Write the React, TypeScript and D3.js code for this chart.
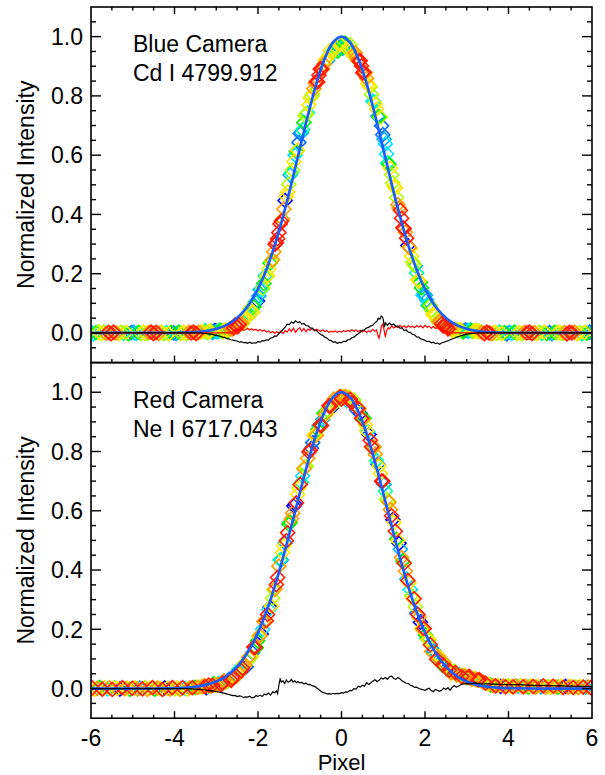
import React from 'react';
import * as d3 from 'd3';

const W = 605;
const H = 775;
const plotLeft = 91;
const plotRight = 592;
const panelTops = [7, 362.6];
const panelH = 355.6;

const PALETTE = ['#0000ff', '#0a6cff', '#00b0ff', '#00e5ff', '#00ff9c', '#00f000', '#aaff00', '#ffe600', '#ff9a00', '#ff1a00'];

const xTickLabels = ['-6', '-4', '-2', '0', '2', '4', '6'];
const yTickLabels = ['0.0', '0.2', '0.4', '0.6', '0.8', '1.0'];
const xLabel = 'Pixel';
const yLabel = 'Normalized Intensity';

// ---------- Blue camera (top panel) ----------
const blueCamX = [
  -6, -5.94, -5.88, -5.82, -5.76, -5.7, -5.64, -5.58, -5.52, -5.46, -5.4, -5.34, -5.28, -5.22, -5.16, -5.1, -5.04, -4.98, -4.92, -4.86,
  -4.8, -4.74, -4.68, -4.62, -4.56, -4.5, -4.44, -4.38, -4.32, -4.26, -4.2, -4.14, -4.08, -4.02, -3.96, -3.9, -3.84, -3.78, -3.72, -3.66,
  -3.6, -3.54, -3.48, -3.42, -3.36,
  -3.3, -3.24, -3.18, -3.12, -3.06, -3, -2.94, -2.88, -2.82, -2.76, -2.7, -2.64, -2.58, -2.52, -2.46, -2.4, -2.34, -2.28, -2.22, -2.16,
  -2.1, -2.04, -1.98, -1.92, -1.86, -1.8, -1.74, -1.68, -1.62, -1.56, -1.5, -1.44, -1.38, -1.32, -1.26, -1.2, -1.14, -1.08, -1.02, -0.96,
  -0.9, -0.84, -0.78, -0.72, -0.66, -0.6, -0.54, -0.48, -0.42, -0.36, -0.3, -0.24, -0.18, -0.12, -0.06, 0,
  0.06, 0.12, 0.18, 0.24, 0.3, 0.36, 0.42, 0.48, 0.54, 0.6, 0.66, 0.72, 0.78, 0.84, 0.9, 0.96, 1.02, 1.08, 1.14, 1.2,
  1.26, 1.32, 1.38, 1.44, 1.5, 1.56, 1.62, 1.68, 1.74, 1.8, 1.86, 1.92, 1.98, 2.04, 2.1, 2.16, 2.22, 2.28, 2.34, 2.4,
  2.46, 2.52, 2.58, 2.64, 2.7, 2.76, 2.82, 2.88, 2.94, 3, 3.06, 3.12, 3.18, 3.24, 3.3,
  3.36, 3.42, 3.48, 3.54, 3.6, 3.66, 3.72, 3.78, 3.84, 3.9, 3.96, 4.02, 4.08, 4.14, 4.2, 4.26, 4.32, 4.38, 4.44, 4.5,
  4.56, 4.62, 4.68, 4.74, 4.8, 4.86, 4.92, 4.98, 5.04, 5.1, 5.16, 5.22, 5.28, 5.34, 5.4, 5.46, 5.52, 5.58, 5.64, 5.7,
  5.76, 5.82, 5.88, 5.94, 6,
];
const blueCamY = [
  0.002, -0.003, 0.001, 0.004, -0.002, 0.003, -0.001, 0.002, -0.003, 0.003, 0.0, -0.002, 0.003, -0.001, 0.002, -0.003, 0.001, 0.003, -0.002, 0.002,
  -0.001, 0.003, -0.003, 0.001, 0.003, -0.002, 0.002, -0.001, 0.003, -0.002, 0.001, -0.003, 0.002, 0.0, -0.002, 0.003, -0.001, 0.002, -0.003, 0.002,
  0.0, 0.003, -0.002, 0.002, 0.003,
  0.005, 0.004, 0.004, 0.005, 0.005, 0.006, 0.006, 0.007, 0.008, 0.009, 0.011, 0.014, 0.017, 0.023, 0.028, 0.034, 0.042, 0.051, 0.065, 0.075,
  0.088, 0.106, 0.125, 0.145, 0.167, 0.19, 0.216, 0.244, 0.274, 0.305, 0.339, 0.377, 0.418, 0.461, 0.502, 0.54, 0.578, 0.612, 0.643, 0.676,
  0.71, 0.74, 0.769, 0.797, 0.824, 0.849, 0.87, 0.89, 0.908, 0.924, 0.936, 0.947, 0.954, 0.96, 0.964, 0.969,
  0.969, 0.966, 0.963, 0.955, 0.945, 0.931, 0.917, 0.901, 0.88, 0.859, 0.833, 0.805, 0.779, 0.755, 0.73, 0.699, 0.654, 0.604, 0.568, 0.534,
  0.495, 0.457, 0.422, 0.387, 0.352, 0.32, 0.289, 0.259, 0.229, 0.202, 0.176, 0.152, 0.131, 0.111, 0.092, 0.076, 0.061, 0.048, 0.039, 0.031,
  0.025, 0.02, 0.015, 0.012, 0.011, 0.01, 0.01, 0.008, 0.007, 0.009, 0.008, 0.008, 0.007, 0.007, 0.006,
  0.002, -0.002, 0.003, 0.0, -0.003, 0.002, -0.001, 0.003, -0.002, 0.001, -0.003, 0.002, -0.001, 0.003, -0.002, 0.001, -0.003, 0.002, 0.0, 0.003,
  -0.002, 0.001, -0.003, 0.002, -0.001, 0.003, -0.002, 0.001, -0.003, 0.002, 0.0, 0.003, -0.002, 0.001, -0.003, 0.002, 0.0, 0.003, -0.002, 0.001,
  -0.003, 0.002, -0.001, 0.003, 0.0,
];
const blueCamC = [
  2, 3, 5, 6, 7, 6, 8, 9, 9, 9, 8, 7, 6, 4, 7, 5, 1, 2, 3, 5,
  6, 7, 6, 8, 9, 9, 9, 8, 7, 6, 4, 7, 5, 1, 2, 5, 6, 7, 6, 8,
  9, 9, 9, 8, 7,
  6, 4, 7, 5, 1, 2, 3, 5, 6, 7, 6, 8, 9, 9, 9, 8, 7, 6, 4, 7,
  5, 1, 2, 3, 5, 6, 7, 6, 8, 9, 9, 9, 8, 7, 6, 4, 7, 5, 1, 2,
  5, 6, 7, 6, 8, 9, 9, 9, 8, 7, 6, 4, 7, 5, 1, 2,
  3, 5, 6, 7, 6, 8, 9, 9, 9, 8, 7, 6, 4, 7, 5, 1, 2, 3, 5, 6,
  7, 6, 8, 9, 9, 9, 8, 7, 6, 4, 7, 5, 1, 2, 5, 6, 7, 6, 8, 9,
  9, 9, 8, 7, 6, 4, 7, 5, 1, 2, 3, 5, 6, 7, 6,
  8, 9, 9, 9, 8, 7, 6, 4, 7, 5, 1, 2, 3, 5, 6, 7, 6, 8, 9, 9,
  9, 8, 7, 6, 4, 7, 5, 1, 2, 5, 6, 7, 6, 8, 9, 9, 9, 8, 7, 6,
  4, 7, 5, 1, 2,
];
// second set of fibres (interleaved sub-pixel positions)
const blueCamX2 = [
  -3.27, -3.21, -3.15, -3.09, -3.03, -2.97, -2.91, -2.85, -2.79, -2.73, -2.67, -2.61, -2.55, -2.49, -2.43, -2.37, -2.31, -2.25, -2.19, -2.13,
  -2.07, -2.01, -1.95, -1.89, -1.83, -1.77, -1.71, -1.65, -1.59, -1.53, -1.47, -1.41, -1.35, -1.29, -1.23, -1.17, -1.11, -1.05, -0.99, -0.93,
  -0.87, -0.81, -0.75, -0.69, -0.63, -0.57, -0.51, -0.45, -0.39, -0.33, -0.27, -0.21, -0.15, -0.09, -0.03,
  0.03, 0.09, 0.15, 0.21, 0.27, 0.33, 0.39, 0.45, 0.51, 0.57, 0.63, 0.69, 0.75, 0.81, 0.87, 0.93, 0.99, 1.05, 1.11, 1.17,
  1.23, 1.29, 1.35, 1.41, 1.47, 1.53, 1.59, 1.65, 1.71, 1.77, 1.83, 1.89, 1.95, 2.01, 2.07, 2.13, 2.19, 2.25, 2.31, 2.37,
  2.43, 2.49, 2.55, 2.61, 2.67, 2.73, 2.79, 2.85, 2.91, 2.97, 3.03, 3.09, 3.15, 3.21, 3.27,
];
const blueCamY2 = [
  0.008, 0.001, 0.006, 0.001, 0.008, 0.004, 0.01, 0.004, 0.01, 0.006, 0.015, 0.013, 0.027, 0.021, 0.034, 0.032, 0.055, 0.054, 0.082, 0.069,
  0.104, 0.108, 0.146, 0.151, 0.192, 0.193, 0.236, 0.247, 0.299, 0.318, 0.368, 0.384, 0.447, 0.476, 0.533, 0.55, 0.6, 0.617, 0.673, 0.686,
  0.733, 0.743, 0.793, 0.806, 0.843, 0.847, 0.891, 0.891, 0.92, 0.92, 0.954, 0.945, 0.966, 0.951, 0.974,
  0.96, 0.978, 0.958, 0.972, 0.938, 0.945, 0.92, 0.919, 0.878, 0.878, 0.841, 0.831, 0.782, 0.773, 0.731, 0.728, 0.669, 0.638, 0.574, 0.556,
  0.506, 0.489, 0.433, 0.414, 0.355, 0.34, 0.295, 0.285, 0.239, 0.227, 0.179, 0.171, 0.128, 0.127, 0.093, 0.093, 0.063, 0.06, 0.039, 0.04,
  0.024, 0.026, 0.014, 0.016, 0.009, 0.013, 0.007, 0.011, 0.004, 0.01, 0.006, 0.011, 0.004, 0.009, 0.004,
];
const blueCamC2 = [
  3, 6, 7, 2, 0, 3, 5, 6, 7, 5, 8, 8, 9, 9, 8, 6, 7, 3, 6, 7,
  4, 0, 2, 6, 3, 7, 5, 8, 9, 9, 9, 8, 0, 7, 2, 6, 3, 7, 1, 4,
  6, 3, 7, 6, 8, 9, 9, 8, 7, 2, 7, 3, 6, 5, 7,
  2, 5, 7, 6, 7, 8, 8, 9, 9, 8, 7, 6, 3, 7, 2, 6, 1, 3, 4, 7,
  6, 7, 8, 9, 9, 8, 0, 7, 6, 2, 7, 5, 3, 2, 3, 6, 7, 7, 6, 8,
  9, 9, 9, 8, 7, 6, 3, 7, 5, 1, 2, 3, 6, 7, 7,
];

// ---------- Red camera (bottom panel) ----------
const redCamX = [
  -5.97, -5.91, -5.85, -5.79, -5.73, -5.67, -5.61, -5.55, -5.49, -5.43, -5.37, -5.31, -5.25, -5.19, -5.13, -5.07, -5.01, -4.95, -4.89, -4.83,
  -4.77, -4.71, -4.65, -4.59, -4.53, -4.47, -4.41, -4.35, -4.29, -4.23, -4.17, -4.11, -4.05, -3.99, -3.93, -3.87, -3.81, -3.75, -3.69, -3.63,
  -3.57, -3.51, -3.45, -3.39,
  -3.33, -3.27, -3.21, -3.15, -3.09, -3.03, -2.97, -2.91, -2.85, -2.79, -2.73, -2.67, -2.61, -2.55, -2.49, -2.43, -2.37, -2.31, -2.25, -2.19,
  -2.13, -2.07, -2.01, -1.95, -1.89, -1.83, -1.77, -1.71, -1.65, -1.59, -1.53, -1.47, -1.41, -1.35, -1.29, -1.23, -1.17, -1.11, -1.05, -0.99,
  -0.93, -0.87, -0.81, -0.75, -0.69, -0.63, -0.57, -0.51, -0.45, -0.39, -0.33, -0.27, -0.21, -0.15, -0.09, -0.03,
  0.03, 0.09, 0.15, 0.21, 0.27, 0.33, 0.39, 0.45, 0.51, 0.57, 0.63, 0.69, 0.75, 0.81, 0.87, 0.93, 0.99, 1.05, 1.11, 1.17,
  1.23, 1.29, 1.35, 1.41, 1.47, 1.53, 1.59, 1.65, 1.71, 1.77, 1.83, 1.89, 1.95, 2.01, 2.07, 2.13, 2.19, 2.25, 2.31, 2.37,
  2.43, 2.49, 2.55, 2.61, 2.67, 2.73, 2.79, 2.85, 2.91, 2.97, 3.03, 3.09, 3.15, 3.21, 3.27, 3.33,
  3.39, 3.45, 3.51, 3.57, 3.63, 3.69, 3.75, 3.81, 3.87, 3.93, 3.99, 4.05, 4.11, 4.17, 4.23, 4.29, 4.35, 4.41, 4.47, 4.53,
  4.59, 4.65, 4.71, 4.77, 4.83, 4.89, 4.95, 5.01, 5.07, 5.13, 5.19, 5.25, 5.31, 5.37, 5.43, 5.49, 5.55, 5.61, 5.67, 5.73,
  5.79, 5.85, 5.91, 5.97,
];
const redCamY = [
  0.002, -0.003, 0.001, 0.004, -0.002, 0.003, -0.001, 0.002, -0.003, 0.003, 0.0, -0.002, 0.003, -0.001, 0.002, -0.003, 0.001, 0.003, -0.002, 0.002,
  -0.001, 0.003, -0.003, 0.001, 0.003, -0.002, 0.002, 0.0, -0.003, 0.002, 0.001, -0.002, 0.003, -0.001, 0.002, -0.003, 0.003, 0.001, -0.002, 0.002,
  0.003, 0.004, 0.004, 0.005,
  0.006, 0.007, 0.008, 0.009, 0.011, 0.013, 0.014, 0.016, 0.019, 0.023, 0.026, 0.03, 0.035, 0.041, 0.049, 0.059, 0.069, 0.079, 0.093, 0.109,
  0.121, 0.139, 0.161, 0.179, 0.2, 0.226, 0.25, 0.274, 0.305, 0.336, 0.375, 0.434, 0.459, 0.491, 0.526, 0.561, 0.592, 0.622, 0.655, 0.689,
  0.717, 0.747, 0.777, 0.804, 0.83, 0.854, 0.873, 0.89, 0.908, 0.925, 0.939, 0.953, 0.966, 0.975, 0.98, 0.985,
  0.986, 0.985, 0.982, 0.976, 0.968, 0.958, 0.946, 0.928, 0.908, 0.89, 0.867, 0.838, 0.815, 0.791, 0.757, 0.726, 0.7, 0.666, 0.632, 0.604,
  0.57, 0.531, 0.5, 0.47, 0.43, 0.396, 0.365, 0.334, 0.304, 0.276, 0.25, 0.224, 0.201, 0.181, 0.166, 0.148, 0.127, 0.114, 0.104, 0.089,
  0.08, 0.077, 0.065, 0.054, 0.056, 0.054, 0.045, 0.044, 0.043, 0.04, 0.038, 0.036, 0.033, 0.032, 0.029, 0.027,
  0.022, 0.018, 0.015, 0.012, 0.01, 0.009, 0.01, 0.007, 0.009, 0.006, 0.01, 0.008, 0.006, 0.009, 0.007, 0.01, 0.006, 0.008, 0.005, 0.009,
  0.007, 0.005, 0.008, 0.006, 0.009, 0.005, 0.007, 0.004, 0.008, 0.006, 0.005, 0.008, 0.004, 0.007, 0.005, 0.008, 0.004, 0.006, 0.003, 0.007,
  0.005, 0.004, 0.006, 0.003,
];
const redCamC = [
  9, 7, 8, 5, 9, 7, 3, 8, 9, 6, 7, 0, 9, 8, 7, 5, 9, 7, 8, 2,
  9, 6, 8, 7, 9, 5, 8, 7, 9, 0, 7, 8, 9, 6, 7, 8, 9, 3, 7, 8,
  9, 5, 8, 7,
  8, 9, 7, 5, 9, 6, 8, 3, 9, 7, 0, 8, 9, 5, 7, 2, 9, 8, 6, 7,
  1, 9, 5, 8, 3, 7, 9, 0, 6, 8, 9, 4, 7, 2, 9, 5, 8, 0, 7, 9,
  3, 6, 8, 9, 1, 7, 5, 9, 2, 8, 6, 9, 7, 3, 8, 9,
  7, 8, 5, 9, 2, 6, 9, 0, 8, 7, 3, 9, 5, 8, 1, 7, 9, 4, 6, 8,
  0, 9, 7, 2, 5, 8, 9, 3, 7, 6, 9, 0, 8, 5, 7, 9, 2, 6, 8, 3,
  9, 7, 1, 8, 5, 9, 6, 7, 0, 8, 9, 4, 7, 8, 9, 6,
  8, 9, 7, 5, 8, 9, 7, 0, 8, 9, 6, 7, 9, 8, 3, 7, 9, 8, 5, 7,
  9, 8, 7, 2, 9, 8, 6, 7, 9, 8, 5, 7, 9, 0, 8, 7, 9, 6, 8, 7,
  9, 3, 8, 9,
];
const redCamX2 = [
  -3.3, -3.24, -3.18, -3.12, -3.06, -3, -2.94, -2.88, -2.82, -2.76, -2.7, -2.64, -2.58, -2.52, -2.46, -2.4, -2.34, -2.28, -2.22, -2.16,
  -2.1, -2.04, -1.98, -1.92, -1.86, -1.8, -1.74, -1.68, -1.62, -1.56, -1.5, -1.44, -1.38, -1.32, -1.26, -1.2, -1.14, -1.08, -1.02, -0.96,
  -0.9, -0.84, -0.78, -0.72, -0.66, -0.6, -0.54, -0.48, -0.42, -0.36, -0.3, -0.24, -0.18, -0.12, -0.06, 0,
  0.06, 0.12, 0.18, 0.24, 0.3, 0.36, 0.42, 0.48, 0.54, 0.6, 0.66, 0.72, 0.78, 0.84, 0.9, 0.96, 1.02, 1.08, 1.14, 1.2,
  1.26, 1.32, 1.38, 1.44, 1.5, 1.56, 1.62, 1.68, 1.74, 1.8, 1.86, 1.92, 1.98, 2.04, 2.1, 2.16, 2.22, 2.28, 2.34, 2.4,
  2.46, 2.52, 2.58, 2.64, 2.7, 2.76, 2.82, 2.88, 2.94, 3, 3.06, 3.12, 3.18, 3.24, 3.3,
];
const redCamY2 = [
  0.011, 0.003, 0.012, 0.008, 0.017, 0.01, 0.017, 0.013, 0.026, 0.022, 0.031, 0.028, 0.04, 0.041, 0.065, 0.06, 0.083, 0.074, 0.106, 0.107,
  0.14, 0.138, 0.177, 0.184, 0.226, 0.229, 0.266, 0.279, 0.333, 0.351, 0.413, 0.434, 0.481, 0.499, 0.555, 0.573, 0.616, 0.627, 0.677, 0.695,
  0.742, 0.75, 0.798, 0.811, 0.855, 0.855, 0.886, 0.888, 0.929, 0.927, 0.954, 0.947, 0.977, 0.968, 0.985, 0.977,
  0.983, 0.972, 0.984, 0.964, 0.973, 0.94, 0.944, 0.912, 0.912, 0.87, 0.857, 0.816, 0.815, 0.769, 0.75, 0.7, 0.689, 0.639, 0.629, 0.583,
  0.56, 0.504, 0.49, 0.442, 0.423, 0.369, 0.357, 0.313, 0.303, 0.254, 0.241, 0.202, 0.203, 0.169, 0.165, 0.125, 0.127, 0.099, 0.108, 0.081,
  0.088, 0.066, 0.062, 0.052, 0.059, 0.046, 0.048, 0.04, 0.046, 0.037, 0.041, 0.031, 0.035, 0.028, 0.03,
];
const redCamC2 = [
  7, 0, 9, 8, 5, 7, 3, 9, 8, 6, 2, 9, 7, 8, 4, 9, 7, 1, 8, 6,
  9, 5, 7, 0, 8, 9, 3, 7, 6, 9, 8, 2, 7, 9, 5, 8, 0, 9, 7, 4,
  8, 6, 9, 1, 7, 8, 3, 9, 5, 7, 9, 0, 8, 6, 7, 9,
  8, 3, 7, 9, 6, 1, 8, 9, 5, 7, 0, 9, 8, 4, 7, 9, 2, 6, 8, 9,
  7, 5, 0, 8, 9, 3, 7, 6, 9, 1, 8, 7, 9, 4, 6, 8, 2, 9, 7, 5,
  8, 0, 9, 7, 6, 8, 3, 9, 7, 5, 9, 8, 6, 7, 9,
];

// ---------- Fitted profiles ----------
const fitX = [-6, -4.5, -4, -3.8, -3.6, -3.4, -3.2, -3, -2.8, -2.6, -2.4, -2.2, -2, -1.8, -1.6, -1.4, -1.2, -1, -0.8, -0.6, -0.4, -0.2, 0,
  0.2, 0.4, 0.6, 0.8, 1, 1.2, 1.4, 1.6, 1.8, 2, 2.2, 2.4, 2.6, 2.8, 3, 3.2, 3.4, 3.6, 3.8, 4, 4.5, 6];
const blueFitY = [0, 0.0001, 0.0005, 0.001, 0.0021, 0.0041, 0.0076, 0.0138, 0.0239, 0.04, 0.0644, 0.0998, 0.1488, 0.2137, 0.2955, 0.3932, 0.5037, 0.6211, 0.7372, 0.8425, 0.9266, 0.9811, 1,
  0.9811, 0.9266, 0.8425, 0.7372, 0.6211, 0.5037, 0.3932, 0.2955, 0.2137, 0.1488, 0.0998, 0.0644, 0.04, 0.0239, 0.0138, 0.0076, 0.0041, 0.0021, 0.001, 0.0005, 0.0001, 0];
const redFitY = [0, 0.0002, 0.0013, 0.0024, 0.0045, 0.0081, 0.014, 0.0235, 0.0381, 0.0598, 0.0907, 0.1331, 0.1889, 0.2592, 0.3442, 0.4418, 0.5488, 0.6592, 0.7659, 0.8607, 0.9355, 0.9835, 1,
  0.9835, 0.9355, 0.8607, 0.7659, 0.6592, 0.5488, 0.4418, 0.3442, 0.2592, 0.1889, 0.1331, 0.0907, 0.0598, 0.0381, 0.0235, 0.014, 0.0081, 0.0045, 0.0024, 0.0013, 0.0002, 0];

// ---------- Residuals ----------
const blueResidBlack: [number, number][] = [
  [-6, 0], [-3.4, 0], [-3.3, -0.001], [-3.2, -0.003], [-3.1, -0.005], [-3.0, -0.008], [-2.9, -0.011], [-2.85, -0.014], [-2.8, -0.015], [-2.75, -0.019],
  [-2.7, -0.02], [-2.65, -0.023], [-2.6, -0.024], [-2.55, -0.026], [-2.5, -0.027], [-2.45, -0.031], [-2.4, -0.029], [-2.35, -0.033], [-2.3, -0.032], [-2.25, -0.035],
  [-2.2, -0.031], [-2.15, -0.035], [-2.1, -0.033], [-2.05, -0.034], [-2.0, -0.029], [-1.95, -0.031], [-1.9, -0.026], [-1.85, -0.027], [-1.8, -0.023], [-1.75, -0.024],
  [-1.7, -0.017], [-1.65, -0.016], [-1.6, -0.01], [-1.55, -0.011], [-1.5, -0.002], [-1.45, 0.004], [-1.4, 0.012], [-1.35, 0.02], [-1.3, 0.03], [-1.25, 0.028],
  [-1.2, 0.037], [-1.15, 0.033], [-1.1, 0.041], [-1.05, 0.035], [-1.0, 0.038], [-0.95, 0.03], [-0.9, 0.032], [-0.85, 0.025], [-0.8, 0.024], [-0.75, 0.017],
  [-0.7, 0.016], [-0.65, 0.01], [-0.6, 0.008], [-0.55, 0.001], [-0.5, -0.005], [-0.45, -0.008], [-0.4, -0.014], [-0.35, -0.017], [-0.3, -0.024], [-0.25, -0.026],
  [-0.2, -0.031], [-0.15, -0.03], [-0.1, -0.035], [-0.05, -0.032], [0, -0.033], [0.05, -0.028], [0.1, -0.029], [0.15, -0.023], [0.2, -0.022], [0.25, -0.016],
  [0.3, -0.014], [0.35, -0.008], [0.4, -0.003], [0.45, 0.003], [0.5, 0.009], [0.55, 0.011], [0.6, 0.017], [0.65, 0.019], [0.7, 0.024], [0.75, 0.026],
  [0.8, 0.034], [0.85, 0.04], [0.88, 0.05], [0.92, 0.047], [0.95, 0.057], [0.98, 0.054], [1.0, 0.045], [1.03, 0.02], [1.05, 0.034], [1.1, 0.026],
  [1.15, 0.033], [1.2, 0.027], [1.25, 0.03], [1.3, 0.022], [1.35, 0.024], [1.4, 0.016], [1.45, 0.017], [1.5, 0.009], [1.55, 0.01], [1.6, 0.003],
  [1.65, 0.002], [1.7, -0.005], [1.75, -0.006], [1.8, -0.013], [1.85, -0.014], [1.9, -0.02], [1.95, -0.022], [2.0, -0.025], [2.05, -0.029], [2.1, -0.028],
  [2.15, -0.033], [2.2, -0.031], [2.25, -0.036], [2.3, -0.034], [2.35, -0.038], [2.4, -0.033], [2.45, -0.032], [2.5, -0.028], [2.55, -0.027], [2.6, -0.023],
  [2.7, -0.018], [2.8, -0.012], [2.9, -0.008], [3.0, -0.004], [3.1, -0.002], [3.2, -0.001], [3.3, 0], [6, 0],
];
const blueResidRed: [number, number][] = [
  [-6, 0], [-2.65, 0], [-2.6, 0.003], [-2.55, 0.01], [-2.5, 0.013], [-2.45, 0.008], [-2.4, 0.014], [-2.35, 0.009], [-2.3, 0.011], [-2.25, 0.016],
  [-2.2, 0.01], [-2.15, 0.014], [-2.1, 0.009], [-2.05, 0.013], [-2.0, 0.007], [-1.95, 0.012], [-1.9, 0.006], [-1.85, 0.01], [-1.8, 0.003], [-1.75, 0.007],
  [-1.7, 0.001], [-1.65, 0.005], [-1.6, -0.001], [-1.55, 0.004], [-1.5, 0.0], [-1.45, 0.006], [-1.4, -0.002], [-1.35, 0.008], [-1.3, 0.003], [-1.25, 0.014],
  [-1.2, 0.005], [-1.15, 0.016], [-1.1, 0.002], [-1.05, 0.012], [-1.0, 0.018], [-0.95, 0.006], [-0.9, 0.015], [-0.85, 0.004], [-0.8, 0.013], [-0.75, 0.009],
  [-0.7, 0.016], [-0.65, 0.007], [-0.6, 0.013], [-0.55, 0.01], [-0.5, 0.005], [-0.45, 0.011], [-0.4, 0.004], [-0.35, 0.008], [-0.3, 0.002], [-0.25, 0.006],
  [-0.2, 0.003], [-0.15, 0.007], [-0.1, 0.002], [-0.05, 0.006], [0, 0.003], [0.05, 0.008], [0.1, 0.004], [0.15, 0.009], [0.2, 0.005], [0.25, 0.011],
  [0.3, 0.006], [0.35, 0.01], [0.4, 0.004], [0.45, 0.009], [0.5, 0.003], [0.55, 0.008], [0.6, 0.002], [0.65, 0.007], [0.7, 0.004], [0.75, 0.012],
  [0.8, 0.006], [0.84, 0.01], [0.87, -0.008], [0.9, -0.018], [0.93, 0.004], [0.96, 0.024], [0.99, 0.03], [1.02, 0.01], [1.05, -0.014], [1.08, 0.008],
  [1.12, 0.018], [1.15, 0.014], [1.2, 0.024], [1.25, 0.017], [1.3, 0.022], [1.35, 0.018], [1.4, 0.026], [1.45, 0.019], [1.5, 0.024], [1.55, 0.017],
  [1.6, 0.025], [1.65, 0.019], [1.7, 0.023], [1.75, 0.018], [1.8, 0.025], [1.85, 0.02], [1.9, 0.024], [1.95, 0.017], [2.0, 0.026], [2.05, 0.019],
  [2.1, 0.023], [2.15, 0.016], [2.2, 0.022], [2.25, 0.015], [2.3, 0.018], [2.35, 0.012], [2.4, 0.014], [2.45, 0.007], [2.5, 0.006], [2.55, 0.002],
  [2.6, 0.001], [2.65, 0], [6, 0],
];
const redResidBlack: [number, number][] = [
  [-6, 0], [-3.7, 0], [-3.6, -0.001], [-3.5, -0.002], [-3.4, -0.003], [-3.3, -0.004], [-3.2, -0.006], [-3.1, -0.008], [-3.0, -0.01], [-2.9, -0.013],
  [-2.8, -0.016], [-2.75, -0.018], [-2.7, -0.02], [-2.65, -0.022], [-2.6, -0.024], [-2.55, -0.023], [-2.5, -0.027], [-2.45, -0.025], [-2.4, -0.026], [-2.35, -0.03],
  [-2.3, -0.028], [-2.25, -0.029], [-2.2, -0.026], [-2.15, -0.031], [-2.1, -0.03], [-2.05, -0.024], [-2.0, -0.026], [-1.95, -0.022], [-1.9, -0.027], [-1.85, -0.019],
  [-1.8, -0.021], [-1.75, -0.015], [-1.7, -0.022], [-1.65, -0.011], [-1.6, -0.014], [-1.56, -0.008], [-1.53, -0.017], [-1.5, 0.012], [-1.47, 0.032], [-1.44, 0.022],
  [-1.4, 0.026], [-1.36, 0.017], [-1.32, 0.029], [-1.28, 0.021], [-1.24, 0.024], [-1.2, 0.031], [-1.16, 0.022], [-1.12, 0.026], [-1.08, 0.02], [-1.04, 0.024],
  [-1.0, 0.019], [-0.95, 0.021], [-0.9, 0.016], [-0.85, 0.018], [-0.8, 0.013], [-0.75, 0.014], [-0.7, 0.009], [-0.65, 0.008], [-0.6, 0.003], [-0.55, -0.002],
  [-0.5, -0.008], [-0.45, -0.013], [-0.4, -0.015], [-0.35, -0.018], [-0.3, -0.017], [-0.25, -0.019], [-0.2, -0.016], [-0.15, -0.018], [-0.1, -0.016], [-0.05, -0.017],
  [0, -0.014], [0.05, -0.015], [0.1, -0.011], [0.15, -0.012], [0.2, -0.006], [0.25, -0.007], [0.3, 0.0], [0.35, -0.002], [0.4, 0.008], [0.45, 0.005],
  [0.5, 0.011], [0.55, 0.008], [0.6, 0.02], [0.65, 0.014], [0.7, 0.019], [0.75, 0.025], [0.8, 0.03], [0.85, 0.024], [0.9, 0.028], [0.95, 0.036],
  [1.0, 0.032], [1.05, 0.037], [1.1, 0.031], [1.15, 0.04], [1.2, 0.042], [1.25, 0.034], [1.3, 0.031], [1.35, 0.037], [1.4, 0.033], [1.45, 0.026],
  [1.5, 0.022], [1.55, 0.018], [1.6, 0.017], [1.65, 0.011], [1.7, 0.009], [1.75, 0.004], [1.8, 0.005], [1.85, 0.0], [1.9, -0.002], [1.95, -0.004],
  [2.0, -0.006], [2.05, -0.002], [2.1, 0.001], [2.15, -0.007], [2.2, -0.01], [2.25, -0.003], [2.3, -0.006], [2.35, -0.009], [2.4, -0.006], [2.45, 0.002],
  [2.5, -0.003], [2.55, 0.003], [2.6, -0.006], [2.65, 0.004], [2.7, 0.01], [2.75, 0.005], [2.8, 0.008], [2.85, 0.013], [2.9, 0.015], [3.0, 0.017],
  [3.1, 0.016], [3.2, 0.019], [3.3, 0.017], [3.5, 0.016], [3.8, 0.014], [4.2, 0.013], [4.6, 0.011], [5.0, 0.01], [5.5, 0.008], [6, 0.007],
];

const FONT = '"Liberation Sans", Arial, Helvetica, sans-serif';
const FS = 23;

const xScale = d3.scaleLinear().domain([-6, 6]).range([plotLeft, plotRight]);

type PanelProps = {
  top: number;
  idx: number;
  xs: number[];
  ys: number[];
  cs: number[];
  fitY: number[];
  blackResid: [number, number][];
  redResid?: [number, number][];
  title: string[];
  topTicks: boolean;
};

function Panel({ top, idx, xs, ys, cs, fitY, blackResid, redResid, title, topTicks }: PanelProps) {
  const y = d3.scaleLinear().domain([-0.1, 1.1]).range([top + panelH, top]);
  const bottom = top + panelH;
  const r = 7;
  const order = d3.range(xs.length).sort((a, b) => cs[a] - cs[b] || a - b);
  const fitLine = d3
    .line<number>()
    .x((_, i) => xScale(fitX[i]))
    .y((d) => y(d))
    .curve(d3.curveCatmullRom.alpha(0.5));
  const resLine = d3
    .line<[number, number]>()
    .x((d) => xScale(d[0]))
    .y((d) => y(d[1]));
  const clipId = `clip-${idx}`;
  const xMajor = xScale.ticks(6);
  const xMinor = xScale.ticks(24);
  const yMajor = y.ticks(6);
  const yMinor = y.ticks(24);
  const yMajLen = 10, yMinLen = 5, xMajLen = 7, xMinLen = 3.5;
  return (
    <g>
      <defs>
        <clipPath id={clipId}>
          <rect x={plotLeft} y={top} width={plotRight - plotLeft} height={panelH} />
        </clipPath>
      </defs>
      <g clipPath={`url(#${clipId})`}>
        {order.map((i) => {
          const px = xScale(xs[i]);
          const py = y(ys[i]);
          return (
            <path
              key={i}
              d={`M${px},${py - r}L${px + r},${py}L${px},${py + r}L${px - r},${py}Z`}
              fill="none"
              stroke={PALETTE[cs[i]]}
              strokeWidth={1.6}
            />
          );
        })}
        <path d={fitLine(fitY) || ''} fill="none" stroke="#1a5cff" strokeWidth={2.7} />
        {redResid && <path d={resLine(redResid) || ''} fill="none" stroke="#ff0000" strokeWidth={1.2} />}
        <path d={resLine(blackResid) || ''} fill="none" stroke="#000" strokeWidth={1.2} />
      </g>
      <rect x={plotLeft} y={top} width={plotRight - plotLeft} height={panelH} fill="none" stroke="#000" strokeWidth={1.6} />
      {yMinor.map((v, i) => {
        const isMajor = yMajor.some((m) => Math.abs(m - v) < 1e-6);
        const len = isMajor ? yMajLen : yMinLen;
        const py = y(v);
        if (py < top + 0.5 || py > bottom - 0.5) return null;
        return (
          <g key={'y' + i}>
            <line x1={plotLeft} x2={plotLeft + len} y1={py} y2={py} stroke="#000" strokeWidth={1.4} />
            <line x1={plotRight} x2={plotRight - len} y1={py} y2={py} stroke="#000" strokeWidth={1.4} />
          </g>
        );
      })}
      {xMinor.map((v, i) => {
        const isMajor = xMajor.some((m) => Math.abs(m - v) < 1e-6);
        const len = isMajor ? xMajLen : xMinLen;
        const px = xScale(v);
        if (px < plotLeft + 0.5 || px > plotRight - 0.5) return null;
        return (
          <g key={'x' + i}>
            <line x1={px} x2={px} y1={bottom} y2={bottom - len} stroke="#000" strokeWidth={1.4} />
            {topTicks && <line x1={px} x2={px} y1={top} y2={top + len} stroke="#000" strokeWidth={1.4} />}
          </g>
        );
      })}
      {yMajor.map((v, i) => (
        <text key={'yl' + i} x={83} y={y(v) + 8.2} textAnchor="end" fontFamily={FONT} fontSize={FS} fill="#000">
          {yTickLabels[i]}
        </text>
      ))}
      <text
        transform={`translate(34,${top + panelH / 2}) rotate(-90)`}
        textAnchor="middle"
        fontFamily={FONT}
        fontSize={FS}
        fill="#000"
      >
        {yLabel}
      </text>
      {title.map((t, i) => (
        <text key={'t' + i} x={133} y={top + 45 + i * 29} fontFamily={FONT} fontSize={FS} fill="#000">
          {t}
        </text>
      ))}
    </g>
  );
}

export default function App() {
  const xMajor = xScale.ticks(6);
  const bottom = panelTops[1] + panelH;
  return (
    <svg width={W} height={H} style={{ position: 'absolute', left: 0, top: 0, display: 'block' }}>
      <rect x={0} y={0} width={W} height={H} fill="#fff" />
      <Panel
        top={panelTops[0]}
        idx={0}
        xs={blueCamX.concat(blueCamX2)}
        ys={blueCamY.concat(blueCamY2)}
        cs={blueCamC.concat(blueCamC2)}
        fitY={blueFitY}
        blackResid={blueResidBlack}
        redResid={blueResidRed}
        title={['Blue Camera', 'Cd I 4799.912']}
        topTicks={true}
      />
      <Panel
        top={panelTops[1]}
        idx={1}
        xs={redCamX.concat(redCamX2)}
        ys={redCamY.concat(redCamY2)}
        cs={redCamC.concat(redCamC2)}
        fitY={redFitY}
        blackResid={redResidBlack}
        title={['Red Camera', 'Ne I 6717.043']}
        topTicks={false}
      />
      {xMajor.map((v, i) => (
        <text key={'xl' + i} x={xScale(v)} y={745.5} textAnchor="middle" fontFamily={FONT} fontSize={FS} fill="#000">
          {xTickLabels[i]}
        </text>
      ))}
      <text x={xScale(0)} y={770} textAnchor="middle" fontFamily={FONT} fontSize={22} fill="#000">
        {xLabel}
      </text>
    </svg>
  );
}
